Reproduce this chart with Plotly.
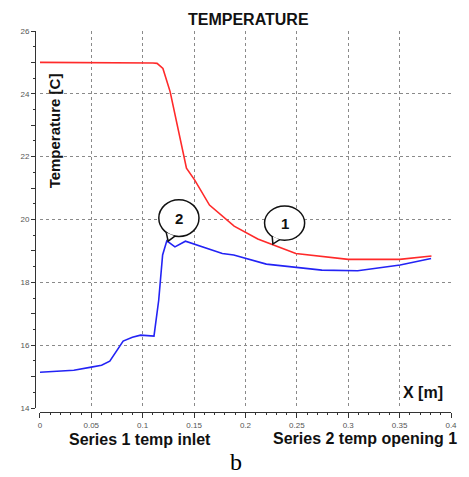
import plotly.graph_objects as go

# ---- data ----
red_x = [0, 0.05, 0.09, 0.1, 0.11, 0.114, 0.1197, 0.1267, 0.1426, 0.1505, 0.165, 0.189, 0.212, 0.249, 0.30, 0.35, 0.381]
red_y = [25.0, 25.0, 25.0, 24.98, 24.98, 24.97, 24.81, 24.07, 21.63, 21.26, 20.46, 19.79, 19.38, 18.92, 18.73, 18.73, 18.84]

blue_x = [0, 0.033, 0.05, 0.06, 0.068, 0.081, 0.09, 0.098, 0.111, 0.1156, 0.1194, 0.1235, 0.1314, 0.1416, 0.1775, 0.1886, 0.2203, 0.2743, 0.3092, 0.3505, 0.3806]
blue_y = [15.14, 15.2, 15.3, 15.36, 15.49, 16.13, 16.25, 16.32, 16.29, 17.43, 18.87, 19.32, 19.13, 19.31, 18.92, 18.87, 18.58, 18.39, 18.37, 18.55, 18.76]

x_ticks = [0, 0.05, 0.1, 0.15, 0.2, 0.25, 0.3, 0.35, 0.4]
x_labels = ["0", "0.05", "0.1", "0.15", "0.2", "0.25", "0.3", "0.35", "0.4"]
y_ticks = [14, 16, 18, 20, 22, 24, 26]
y_mid_ticks = [15, 17, 19, 21, 23, 25]

title_text = "TEMPERATURE"
y_title = "Temperature [C]"
x_title = "X [m]"
series1_label = "Series 1 temp inlet"
series2_label = "Series 2 temp opening 1"
caption = "b"

# ---- figure ----
OFF = 8  # page body margin
W, H = 469 - OFF, 477 - OFF
ml, mr, mt, mb = 32 - OFF, 12, 31 - OFF, 65
pw = W - ml - mr
ph = H - mt - mb

def px2paper(px, py):
    return (px - OFF - ml) / pw, (H - mb - (py - OFF)) / ph

fig = go.Figure()
fig.add_trace(go.Scatter(x=red_x, y=red_y, mode="lines",
                         line=dict(color="#ff2a2a", width=1.6), showlegend=False))
fig.add_trace(go.Scatter(x=blue_x, y=blue_y, mode="lines",
                         line=dict(color="#2323f5", width=1.6), showlegend=False))
fig.add_trace(go.Scatter(x=[], y=[], yaxis="y2", showlegend=False))

font_ticks = dict(family="Liberation Sans, Arial", size=8, color="#555555")
grid_color = "#8a8a8a"

fig.update_layout(
    width=W, height=H,
    margin=dict(l=ml, r=mr, t=mt, b=mb),
    paper_bgcolor="white", plot_bgcolor="white",
    xaxis=dict(
        range=[0, 0.4], domain=[5 / pw, 1], anchor="free", position=0,
        tickvals=x_ticks, ticktext=x_labels, tickfont=font_ticks,
        ticks="outside", ticklen=5, tickcolor="#333", tickwidth=1,
        showline=True, linecolor="#333", linewidth=1,
        showgrid=True, gridcolor=grid_color, griddash="dot", gridwidth=1,
        zeroline=False,
        minor=dict(dtick=0.01, ticks="outside", ticklen=2, tickcolor="#333", showgrid=False),
    ),
    yaxis=dict(
        range=[14, 26], domain=[4 / ph, 1], anchor="free", position=0,
        tickvals=y_ticks, tickfont=font_ticks,
        ticks="outside", ticklen=4, tickcolor="#333", tickwidth=1,
        showline=True, linecolor="#333", linewidth=1,
        showgrid=True, gridcolor=grid_color, griddash="dot", gridwidth=1,
        zeroline=False,
        minor=dict(dtick=0.5, ticks="outside", ticklen=2, tickcolor="#333", showgrid=False),
    ),
    yaxis2=dict(
        range=[14, 26], domain=[4 / ph, 1], anchor="free", position=0,
        overlaying="y", tickvals=y_mid_ticks, showticklabels=False,
        ticks="outside", ticklen=4, tickcolor="#333", showgrid=False, showline=False,
        zeroline=False,
    ),
)

annotations = []
def add_text(text, px, py, size, xanchor="center", family=None, color="#111111", angle=0):
    x, y = px2paper(px, py)
    f = dict(family=family or "Liberation Sans, Arial", size=size, color=color)
    annotations.append(dict(text=text, x=x, y=y, xref="paper", yref="paper",
                            xanchor=xanchor, yanchor="middle", showarrow=False,
                            font=f, textangle=angle))

add_text("<b>%s</b>" % title_text, 250, 19, 16)
add_text("<b>%s</b>" % y_title, 52.3, 130.5, 15, angle=-90)
add_text("<b>%s</b>" % x_title, 451, 392, 16, xanchor="right")
add_text("<b>%s</b>" % series1_label, 139, 439, 16)
add_text("<b>%s</b>" % series2_label, 369.5, 438, 16)

# caption anchored to the bottom edge of the figure so it is not clipped
cx, _ = px2paper(237.5, 0)
annotations.append(dict(text=caption, x=cx, y=-(mb - 0.5) / ph, xref="paper", yref="paper",
                        xanchor="center", yanchor="bottom", showarrow=False, borderpad=0,
                        font=dict(family="Liberation Serif, Times New Roman", size=24, color="#000")))

# callout balloons (data coordinates)
shapes = []
def balloon(x0, x1, y0, y1, a, tip, b, label):
    shapes.append(dict(type="circle", xref="x", yref="y", x0=x0, x1=x1, y0=y0, y1=y1,
                       line=dict(color="#111", width=1.5), fillcolor="white"))
    path = "M %f %f L %f %f L %f %f" % (a[0], a[1], tip[0], tip[1], b[0], b[1])
    shapes.append(dict(type="path", xref="x", yref="y", path=path,
                       line=dict(color="#111", width=1.5), fillcolor="white"))
    annotations.append(dict(text="<b>%s</b>" % label, x=(x0 + x1) / 2, y=(y0 + y1) / 2,
                            xref="x", yref="y", showarrow=False,
                            font=dict(family="Liberation Sans, Arial", size=15, color="#111")))

balloon(0.1157, 0.1548, 19.46, 20.63, (0.1229, 19.59), (0.1248, 19.31), (0.1314, 19.47), "2")
balloon(0.2186, 0.2576, 19.34, 20.43, (0.2260, 19.47), (0.2267, 19.22), (0.2333, 19.36), "1")

fig.update_layout(annotations=annotations, shapes=shapes)
fig.write_html("out.html")
